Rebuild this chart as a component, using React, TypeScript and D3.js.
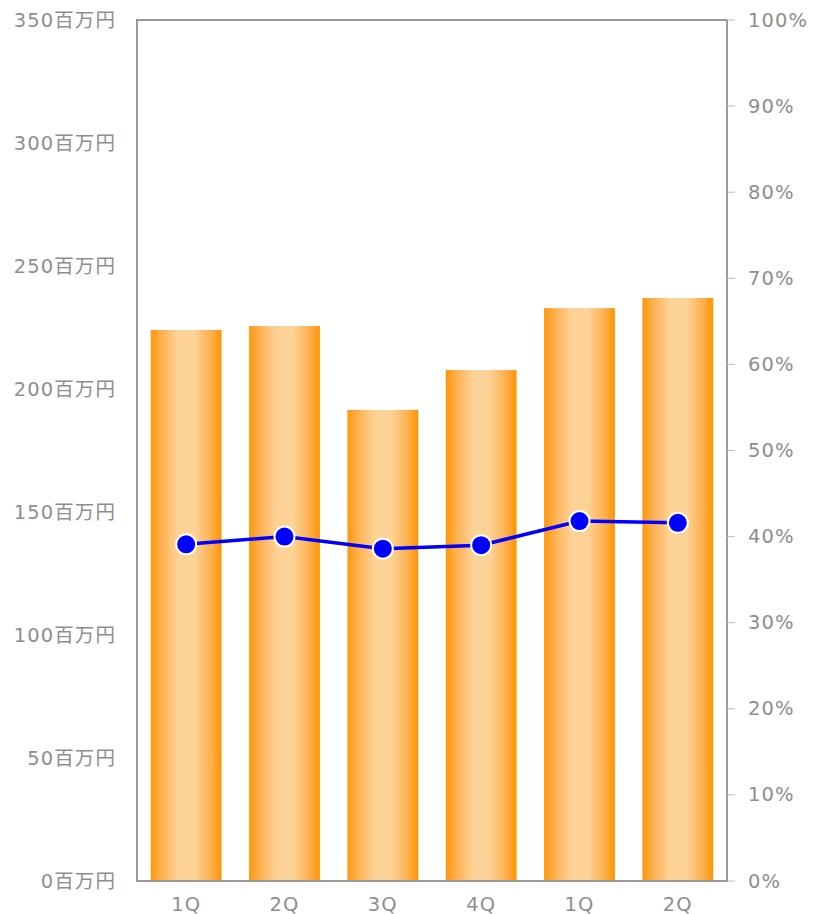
import React from "react";
import * as d3 from "d3";

const categories = ["1Q", "2Q", "3Q", "4Q", "1Q", "2Q"];
const salesValues = [224, 225.6, 191.5, 207.7, 232.9, 237];
const ratioValues = [39.1, 40.0, 38.6, 39.0, 41.8, 41.6];
const leftTicks = [0, 50, 100, 150, 200, 250, 300, 350];
const rightTicks = [0, 10, 20, 30, 40, 50, 60, 70, 80, 90, 100];

const W = 815;
const H = 914;
const M = { left: 137, right: 727, top: 20, bottom: 881 };

export default function App() {
  const x = d3
    .scaleBand<number>()
    .domain(categories.map((_, i) => i))
    .range([M.left, M.right])
    .paddingInner(0.28)
    .paddingOuter(0.14);
  const yL = d3.scaleLinear().domain([0, 350]).range([M.bottom, M.top]);
  const yR = d3.scaleLinear().domain([0, 100]).range([M.bottom, M.top]);
  const line = d3
    .line<number>()
    .x((_, i) => (x(i) as number) + x.bandwidth() / 2)
    .y((d) => yR(d));
  const font = "'DejaVu Sans', 'Noto Sans CJK JP', sans-serif";
  const textColor = "#8e8e8e";
  const fs = 19.5;
  const ls = 1.1;

  return (
    <svg
      width={W}
      height={H}
      style={{ position: "absolute", left: 0, top: 0, display: "block" }}
    >
      <defs>
        <linearGradient id="barGrad" x1="0" x2="1" y1="0" y2="0">
          <stop offset="0%" stopColor="#ff9608" />
          <stop offset="15%" stopColor="#feb050" />
          <stop offset="38%" stopColor="#fdd296" />
          <stop offset="62%" stopColor="#fdd296" />
          <stop offset="85%" stopColor="#feb050" />
          <stop offset="100%" stopColor="#ff9300" />
        </linearGradient>
      </defs>
      {salesValues.map((v, i) => (
        <rect
          key={i}
          x={x(i)}
          y={yL(v)}
          width={x.bandwidth()}
          height={M.bottom - yL(v)}
          fill="url(#barGrad)"
        />
      ))}
      <rect
        x={M.left}
        y={M.top}
        width={M.right - M.left}
        height={M.bottom - M.top}
        fill="none"
        stroke="#999"
        strokeWidth={2}
      />
      {rightTicks.map((t) => (
        <line
          key={t}
          x1={M.right}
          x2={M.right + 8}
          y1={yR(t)}
          y2={yR(t)}
          stroke="#bbb"
          strokeWidth={1}
        />
      ))}
      <path d={line(ratioValues) || ""} fill="none" stroke="#0000ff" strokeWidth={3.5} />
      {ratioValues.map((v, i) => (
        <circle
          key={i}
          cx={(x(i) as number) + x.bandwidth() / 2}
          cy={yR(v)}
          r={10}
          fill="#0000ff"
          stroke="#fff"
          strokeWidth={2}
        />
      ))}
      {leftTicks.map((t) => (
        <text
          key={t}
          x={116}
          y={yL(t)}
          textAnchor="end"
          dominantBaseline="central"
          fontFamily={font}
          fontSize={fs}
          letterSpacing={ls}
          fill={textColor}
        >
          {t}百万円
        </text>
      ))}
      {rightTicks.map((t) => (
        <text
          key={t}
          x={748}
          y={yR(t)}
          textAnchor="start"
          dominantBaseline="central"
          fontFamily={font}
          fontSize={fs}
          letterSpacing={ls}
          fill={textColor}
        >
          {t}%
        </text>
      ))}
      {categories.map((c, i) => (
        <text
          key={i}
          x={(x(i) as number) + x.bandwidth() / 2}
          y={904}
          textAnchor="middle"
          dominantBaseline="central"
          fontFamily={font}
          fontSize={fs}
          letterSpacing={ls}
          fill={textColor}
        >
          {c}
        </text>
      ))}
    </svg>
  );
}
